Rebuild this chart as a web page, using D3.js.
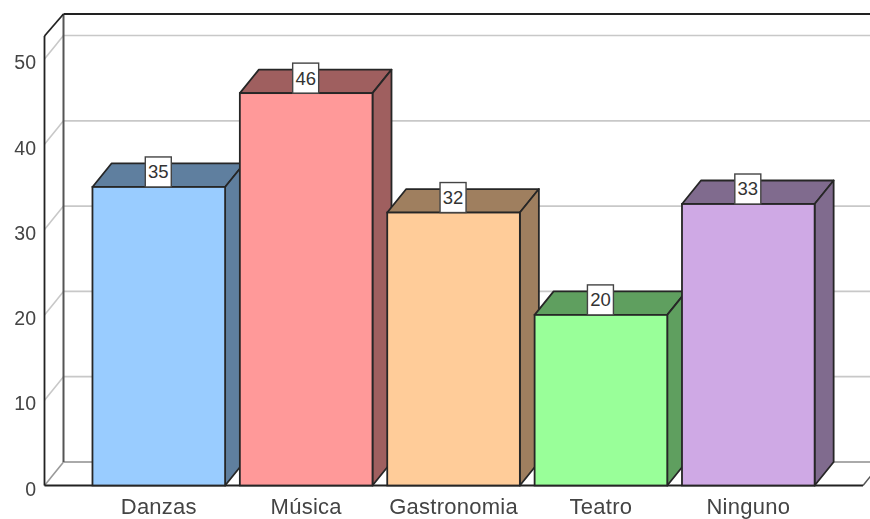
<!DOCTYPE html>
<html><head><meta charset="utf-8">
<style>html,body{margin:0;padding:0;background:#fff}svg{display:block;filter:blur(0.4px)}</style>
<script src="https://cdn.jsdelivr.net/npm/d3@7"></script></head>
<body><svg id="c" width="870" height="519"></svg>
<script>
const categories=["Danzas","Música","Gastronomia","Teatro","Ninguno"];
const values=[35,46,32,20,33];
const tickValues=[0,10,20,30,40,50];
const frontColors=["#99CCFF","#FF9999","#FFCC99","#99FF99","#CFA9E5"];
const sideColors=["#5F7F9F","#9F5F5F","#9F7F5F","#5F9F5F","#806B8E"];

const W=870,H=519,dx=19,dy=23.5,axisLeftX=44.5,axisRightX=863,y0=485.5,yTop=36;
const y=d3.scaleLinear().domain([0,50]).range([y0,59]);
const x=d3.scaleBand().domain(categories).range([85.1,822]).paddingInner(0.1).paddingOuter(0.05);
const svg=d3.select("#c");
const dark="#262626",grid="#c8c8c8";
const font="'Liberation Sans',Arial,sans-serif";
const line=(g,x1,y1,x2,y2,c,w)=>g.append("line").attr("x1",x1).attr("y1",y1).attr("x2",x2).attr("y2",y2).attr("stroke",c).attr("stroke-width",w);

// gridlines on the floor / side wall / back wall
const gr=svg.append("g");
tickValues.forEach(t=>{
  line(gr,axisLeftX,y(t),axisLeftX+dx,y(t)-dy,t===0?"#999":grid,1.6);
  line(gr,axisLeftX+dx,y(t)-dy,W,y(t)-dy,t===0?"#aaa":grid,t===0?2:1.7);
});
// frame
const fr=svg.append("g");
line(fr,axisLeftX+dx,14,axisLeftX+dx,y0-dy,"#555",2);
line(fr,axisLeftX+dx,14,W,14,"#222",1.8);
line(fr,axisLeftX,yTop,axisLeftX+dx,14,"#222",1.8);
line(fr,axisLeftX,yTop,axisLeftX,y0,"#222",1.8);
line(fr,axisLeftX,y0,axisRightX,y0,"#222",1.8);
line(fr,axisRightX,y0,axisRightX+dx,y0-dy,"#555",1.5);

// bars
const bars=svg.append("g").selectAll("g").data(categories).join("g");
const xl=c=>x(c), xr=c=>x(c)+x.bandwidth(), barTop=(c,i)=>y(values[i]);
bars.append("path").attr("fill",(c,i)=>sideColors[i]).attr("stroke",dark).attr("stroke-width",1.8).attr("stroke-linejoin","round")
  .attr("d",(c,i)=>`M${xl(c)},${barTop(c,i)}L${xl(c)+dx},${barTop(c,i)-dy}L${xr(c)+dx},${barTop(c,i)-dy}L${xr(c)},${barTop(c,i)}Z`);
bars.append("path").attr("fill",(c,i)=>sideColors[i]).attr("stroke",dark).attr("stroke-width",1.8).attr("stroke-linejoin","round")
  .attr("d",(c,i)=>`M${xr(c)},${barTop(c,i)}L${xr(c)+dx},${barTop(c,i)-dy}L${xr(c)+dx},${y0-dy}L${xr(c)},${y0}Z`);
bars.append("rect").attr("x",xl).attr("y",barTop).attr("width",x.bandwidth()).attr("height",(c,i)=>y0-barTop(c,i))
  .attr("fill",(c,i)=>frontColors[i]).attr("stroke",dark).attr("stroke-width",1.8);

// value labels
const lab=svg.append("g").selectAll("g").data(categories).join("g")
  .attr("transform",(c,i)=>`translate(${x(c)+x.bandwidth()/2-0.5},${barTop(c,i)})`);
lab.append("rect").attr("x",-13).attr("y",-30).attr("width",26).attr("height",30).attr("fill","#fff").attr("stroke","#444").attr("stroke-width",1.4);
lab.append("text").attr("y",-15).attr("dy","0.35em").attr("text-anchor","middle")
  .attr("font-family",font).attr("font-size",18.5).attr("fill","#333").text((c,i)=>values[i]);

// axes
const ax=svg.append("g").attr("transform","translate(36,3.5)")
  .call(d3.axisLeft(y).tickValues(tickValues).tickSize(0).tickPadding(0));
ax.select(".domain").remove();
ax.selectAll("text").attr("font-family",font).attr("font-size",19.5).attr("fill","#444");
const bx=svg.append("g").attr("transform",`translate(0,${y0})`)
  .call(d3.axisBottom(x).tickSize(0).tickPadding(13));
bx.select(".domain").remove();
bx.selectAll("text").attr("font-family",font).attr("font-size",22).attr("letter-spacing",0.25).attr("fill","#444");
</script></body></html>
